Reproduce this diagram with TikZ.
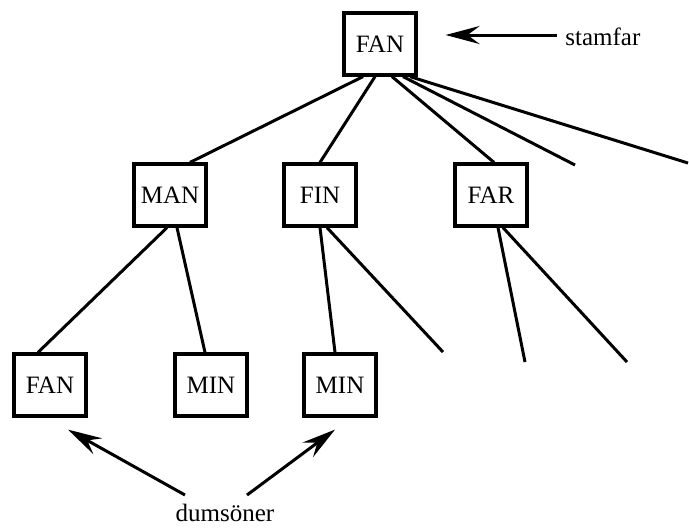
\documentclass[tikz,border=0pt]{standalone}
\usepackage{fontspec}
\setmainfont{Liberation Serif}
\usetikzlibrary{arrows.meta,calc}

\begin{document}
\begin{tikzpicture}[x=0.5pt,y=-0.5pt,>={Stealth[length=17pt,width=9pt,inset=6pt]},
every node/.style={font=\fontsize{12.5}{15}\selectfont},
word/.style={draw,line width=1.6pt,rectangle,minimum width=36pt,minimum height=31pt,inner sep=0pt},
branch/.style={line width=1.5pt}]
\useasboundingbox (0,0) rectangle (689,527);
\node[word] (root) at (380,44) {FAN};
\node[word] (man) at (170,195) {MAN};
\node[word] (fin) at (320,195) {FIN};
\node[word] (far) at (491,195) {FAR};
\node[word] (fanb) at (50,385) {FAN};
\node[word] (mina) at (211,385) {MIN};
\node[word] (minb) at (340,385) {MIN};
\node[anchor=west,inner sep=0pt] (stamfar) at (565,37) {stamfar};
\node (dumsoner) at (225,513) {dumsöner};
\coordinate (ra) at (575,165);
\coordinate (rb) at (688,163);
\coordinate (fa) at (443,352);
\coordinate (ga) at (525,362);
\coordinate (gb) at (627,362);
\coordinate (sa) at (557,35);
\coordinate (da) at (185,495);
\coordinate (db) at (247,495);
% top level
\draw[branch] ($(root.south)+(-17,0)$) -- ($(man.north)+(20,0)$);
\draw[branch] ($(root.south)+(-5,0)$) -- (fin.north);
\draw[branch] ($(root.south)+(12,0)$) -- ($(far.north)+(3,0)$);
\draw[branch] ($(root.south)+(23,0)$) -- (ra);
\draw[branch] ($(root.south)+(30,0)$) -- (rb);
% second level
\draw[branch] ($(man.south)+(-3,0)$) -- ($(fanb.north)+(-12,0)$);
\draw[branch] ($(man.south)+(7,0)$) -- ($(mina.north)+(-6,0)$);
\draw[branch] (fin.south) -- ($(minb.north)+(-5,0)$);
\draw[branch] ($(fin.south)+(7,0)$) -- (fa);
\draw[branch] ($(far.south)+(7,0)$) -- (ga);
\draw[branch] ($(far.south)+(12,0)$) -- (gb);
% labels
\draw[->,branch] (sa) -- ($(root.east)+(28,-9)$);
\draw[->,branch] (da) -- ($(fanb.south)+(18,12)$);
\draw[->,branch] (db) -- ($(minb.south)+(-5,12)$);
\end{tikzpicture}
\end{document}
